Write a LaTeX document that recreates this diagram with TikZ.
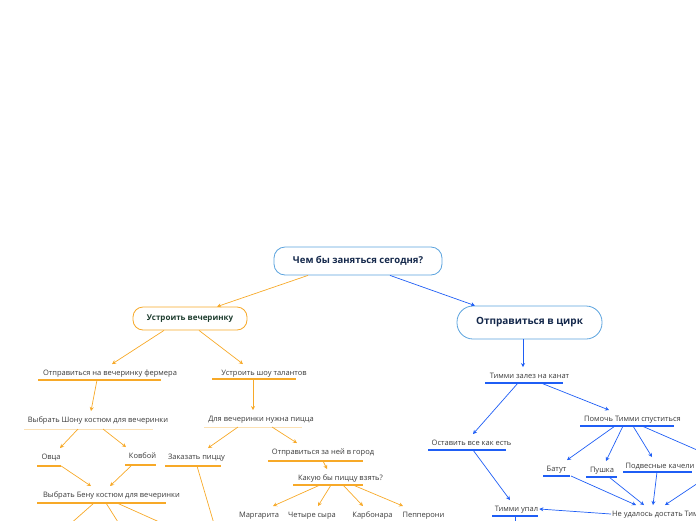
\documentclass[tikz,border=0pt]{standalone}
\usepackage{fontspec}
\setmainfont{Open Sans}
\usepackage{xcolor}
\usetikzlibrary{arrows.meta,positioning}
\definecolor{partyorange}{HTML}{F7A928}
\definecolor{circusblue}{HTML}{1F5EF5}
\definecolor{hubblue}{HTML}{5BA3DE}
\definecolor{hubnavy}{HTML}{14284B}
\definecolor{hubgreen}{HTML}{1E3D2F}
\definecolor{itemgray}{HTML}{3A3A3A}

\begin{document}
\begin{tikzpicture}[x=1pt,y=-1pt,
  hub/.style={draw=hubblue,fill=white,line width=0.8pt,font=\bfseries,text=hubnavy,inner sep=0pt},
  item/.style={font=\fontsize{7.5}{9}\selectfont,text=itemgray,text height=6pt,text depth=1.5pt,inner xsep=1pt,inner ysep=5pt},
  obar/.style={fill=partyorange,inner sep=0pt,minimum height=1.6pt},
  pbar/.style={fill=partyorange!35,inner sep=0pt,minimum height=1pt},
  bbar/.style={fill=circusblue,inner sep=0pt,minimum height=1.6pt},
  oarr/.style={draw=partyorange,line width=0.7pt,-{Stealth[length=4pt,width=4pt]}},
  barr/.style={draw=circusblue,line width=0.7pt,-{Stealth[length=4pt,width=4pt]}},
  oline/.style={draw=partyorange,line width=0.7pt},
  bline/.style={draw=circusblue,line width=0.7pt}]
  \useasboundingbox (0,0) rectangle (696,520);
  \clip (0,0) rectangle (696,520);

  \node[hub,rounded corners=11pt,minimum width=168pt,minimum height=28pt,font=\fontsize{9.5}{11}\selectfont\bfseries] (root) at (358,261) {Чем бы заняться сегодня?};
  \node[hub,draw=partyorange,text=hubgreen,rounded corners=10pt,minimum width=114pt,minimum height=23pt,font=\fontsize{8}{10}\selectfont\bfseries] (party) at (190,318.5) {Устроить вечеринку};
  \node[hub,rounded corners=16pt,minimum width=145pt,minimum height=33pt,font=\fontsize{10}{12}\selectfont\bfseries] (circus) at (529.5,322.5) {Отправиться в цирк};
  \draw[oarr] ([xshift=-50]root.south) -- ([xshift=27]party.north);
  \draw[barr] ([xshift=32]root.south) -- ([xshift=-54.5]circus.north);

  \node[item] (ferm) at (110,373) {Отправиться на вечеринку фермера};
  \node[obar,minimum width=123pt] (fermU) at (99.5,380) {};
  \node[item] (show) at (264,373) {Устроить шоу талантов};
  \node[obar,minimum width=84pt] (showU) at (254,379) {};
  \node[item] (shona) at (98,420) {Выбрать Шону костюм для вечеринки};
  \node[pbar,minimum width=129pt] (shonaU) at (88.5,429) {};
  \node[item] (pizza) at (261,419) {Для вечеринки нужна пицца};
  \node[pbar,minimum width=98pt] (pizzaU) at (253,427) {};
  \node[item] (ovca) at (51,457) {Овца};
  \node[obar,minimum width=24pt] (ovcaU) at (49,466) {};
  \node[item] (cowboy) at (142.5,456) {Ковбой};
  \node[obar,minimum width=31pt] (cowboyU) at (140.5,465) {};
  \node[item] (order) at (196.5,457) {Заказать пиццу};
  \node[obar,minimum width=56pt] (orderU) at (193,466) {};
  \node[item] (town) at (323,452) {Отправиться за ней в город};
  \node[obar,minimum width=95pt] (townU) at (315.5,461) {};
  \node[item] (ben) at (111.5,495) {Выбрать Бену костюм для вечеринки};
  \node[obar,minimum width=129pt] (benU) at (101.5,503) {};
  \node[item] (which) at (340.5,478) {Какую бы пиццу взять?};
  \node[obar,minimum width=70pt] (whichU) at (328,485) {};

  \draw[oarr] ([xshift=-26]party.south) -- ([xshift=2]ferm.north);
  \draw[oarr] ([xshift=9]party.south) -- ([xshift=-21]show.north);
  \draw[oarr] ([xshift=-2.5]fermU.center) -- ([xshift=-7]shona.north);
  \draw[oarr] ([xshift=-1]showU.center) -- ([xshift=-8]pizza.north);
  \draw[oarr] ([xshift=-10.5]shonaU.center) -- ([xshift=9]ovca.north);
  \draw[oarr] ([xshift=14.5]shonaU.center) -- ([xshift=-16.5]cowboy.north);
  \draw[oarr] (ovcaU.east) -- ([xshift=-20.5]ben.north);
  \draw[oarr] ([xshift=-8.5]cowboyU.center) -- ([xshift=-1.5]ben.north);
  \draw[oarr] ([xshift=-15]pizzaU.center) -- ([xshift=11.5]order.north);
  \draw[oarr] ([xshift=19]pizzaU.center) -- ([xshift=-26]town.north);
  \draw[oarr] ([xshift=7.5]townU.center) -- ([xshift=-13.5]which.north);

  \foreach \n/\x/\lab/\a/\b in {marg/259/Маргарита/-8/14,four/312/Четыре сыра/3/6,carb/372.5/Карбонара/15/-9.5,pepp/423.5/Пепперони/25/-20.5}{
    \node[item] (\n) at (\x,515) {\lab};
    \draw[oarr] ([xshift=\a]whichU.center) -- ([xshift=\b]\n.north);
  }

  \coordinate (benA) at (60,533);
  \coordinate (benB) at (123,530);
  \coordinate (benC) at (175,529);
  \coordinate (orderA) at (217,534);
  \draw[oline] ([xshift=-7.5]benU.center) -- (benA);
  \draw[oline] ([xshift=4.5]benU.center) -- (benB);
  \draw[oline] ([xshift=15.5]benU.center) -- (benC);
  \draw[oline] ([xshift=4]orderU.center) -- (orderA);

  \node[item] (rope) at (529.5,376) {Тимми залез на канат};
  \node[bbar,minimum width=78pt] (ropeU) at (524,383) {};
  \node[item] (leave) at (471.5,443) {Оставить все как есть};
  \node[bbar,minimum width=78pt] (leaveU) at (467,450) {};
  \node[item] (help) at (632.5,419) {Помочь Тимми спуститься};
  \node[bbar,minimum width=94pt] (helpU) at (627,426) {};
  \node[item] (fell) at (516.5,509) {Тимми упал};
  \node[bbar,minimum width=46pt] (fellU) at (515,516) {};
  \node[item] (batut) at (556.5,469) {Батут};
  \node[bbar,minimum width=27pt] (batutU) at (556.5,476) {};
  \node[item] (cannon) at (602,470) {Пушка};
  \node[bbar,minimum width=31pt] (cannonU) at (601.5,477) {};
  \node[item] (swing) at (660,466) {Подвесные качели};
  \node[bbar,minimum width=69pt] (swingU) at (657.5,472) {};
  \node[item,anchor=west] (fail) at (611,514) {Не удалось достать Тимми};

  \draw[barr] ([xshift=-6.5]circus.south) -- ([xshift=-6.5]rope.north);
  \draw[barr] ([xshift=-6]ropeU.center) -- ([xshift=1.5]leave.north);
  \draw[barr] ([xshift=17]ropeU.center) -- ([xshift=-23.5]help.north);
  \draw[barr] ([xshift=6]leaveU.center) -- ([xshift=-6.5]fell.north);
  \draw[barr] ([xshift=-12]helpU.center) -- ([xshift=10.5]batut.north);
  \draw[barr] ([xshift=-4]helpU.center) -- ([xshift=4]cannon.north);
  \draw[barr] ([xshift=6]helpU.center) -- ([xshift=-8]swing.north);
  \draw[barr] ([xshift=14.5]batutU.center) -- ([xshift=25]fail.north west);
  \draw[barr] ([xshift=7.5]cannonU.center) -- ([xshift=33]fail.north west);
  \draw[barr] ([xshift=-0.5]swingU.center) -- ([xshift=42]fail.north west);
  \draw[barr] (fail.west) -- (fell.east);

  \coordinate (helpR) at (720,460);
  \coordinate (swingR) at (710,475);
  \coordinate (fellD) at (515,530);
  \draw[bline] ([xshift=15]helpU.center) -- (helpR);
  \draw[barr] (swingR) -- ([xshift=54]fail.north west);
  \draw[bline] (fellU.center) -- (fellD);
\end{tikzpicture}
\end{document}
